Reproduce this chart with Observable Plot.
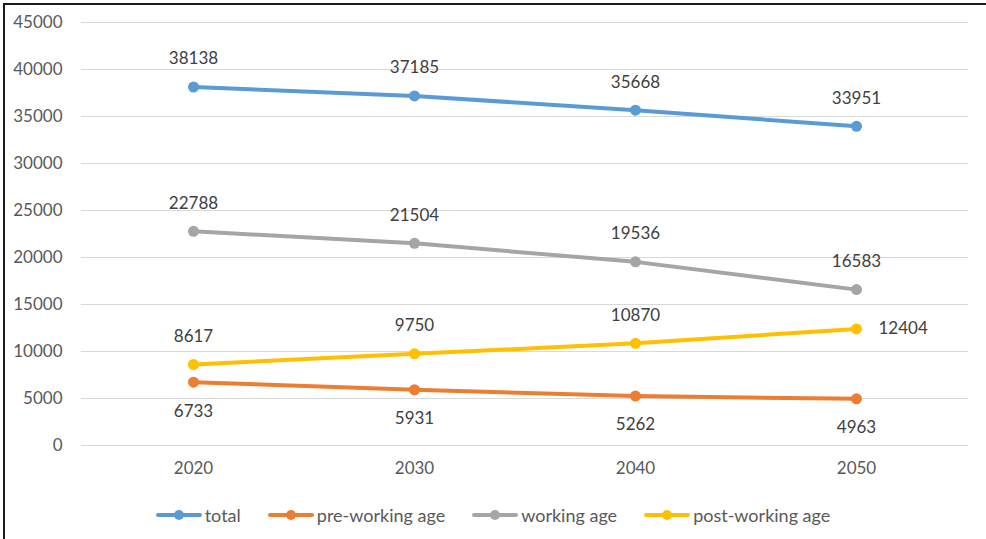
<!DOCTYPE html>
<html>
<head>
<meta charset="utf-8">
<script src="https://cdn.jsdelivr.net/npm/d3@7"></script>
<script src="https://cdn.jsdelivr.net/npm/@observablehq/plot@0.6"></script>
<style>
  html, body { margin: 0; padding: 0; background: #fff; }
  body { width: 986px; height: 539px; overflow: hidden; position: relative; font-family: Lato, "Open Sans", sans-serif; }
  #frame { position: absolute; left: 3px; top: 3px; width: 1200px; height: 800px; border-left: 2px solid #1a1a1a; border-top: 2px solid #1a1a1a; pointer-events: none; }
  #chart { position: absolute; left: 0; top: 0; }
  #legend { position: absolute; left: 0; top: 502px; width: 986px; height: 26px; display: flex; justify-content: center; align-items: center; gap: 27px; color: #595959; font-size: 18px; }
  .item { display: flex; align-items: center; }
  .item span { margin-left: 3px; }
</style>
</head>
<body>
<div id="chart"></div>
<div id="legend"></div>
<div id="frame"></div>
<script>
const years = ["2020", "2030", "2040", "2050"];
const total = [38138, 37185, 35668, 33951];
const preWorking = [6733, 5931, 5262, 4963];
const working = [22788, 21504, 19536, 16583];
const postWorking = [8617, 9750, 10870, 12404];
const seriesNames = ["total", "pre-working age", "working age", "post-working age"];
const seriesColors = ["#5B9BD5", "#ED7D31", "#A5A5A5", "#FFC000"];
const yTicks = [0, 5000, 10000, 15000, 20000, 25000, 30000, 35000, 40000, 45000];

const seriesValues = [total, preWorking, working, postWorking];
const data = [];
seriesNames.forEach((s, i) => {
  years.forEach((yr, j) => data.push({series: s, year: yr, value: seriesValues[i][j]}));
});

const above = d => d.series === "total" || d.series === "working age" || (d.series === "post-working age" && d.year !== "2050");
const below = d => d.series === "pre-working age";
const right = d => d.series === "post-working age" && d.year === "2050";

const chart = Plot.plot({
  width: 986,
  height: 490,
  marginLeft: 81,
  marginRight: 18,
  marginTop: 22,
  marginBottom: 45,
  style: {fontFamily: "Lato, 'Open Sans', sans-serif", fontSize: "17px", color: "#595959", background: "transparent"},
  x: {type: "point", domain: years, padding: 0.5, label: null},
  y: {domain: [0, 45000], ticks: yTicks, label: null, tickFormat: d => String(d)},
  color: {domain: seriesNames, range: seriesColors},
  marks: [
    Plot.gridY(yTicks, {stroke: "#D9D9D9", strokeOpacity: 1, strokeWidth: 1}),
    Plot.axisY({ticks: yTicks, tickSize: 0, tickPadding: 19, tickFormat: d => String(d), label: null}),
    Plot.axisX({tickSize: 0, tickPadding: 16, label: null}),
    Plot.line(data, {x: "year", y: "value", z: "series", stroke: "series", strokeWidth: 4, strokeLinecap: "round", strokeLinejoin: "round"}),
    Plot.dot(data, {x: "year", y: "value", fill: "series", r: 5.5}),
    Plot.text(data.filter(above), {x: "year", y: "value", text: d => String(d.value), dy: -28, fill: "#404040"}),
    Plot.text(data.filter(below), {x: "year", y: "value", text: d => String(d.value), dy: 29, fill: "#404040"}),
    Plot.text(data.filter(right), {x: "year", y: "value", text: d => String(d.value), dx: 22, textAnchor: "start", fill: "#404040"})
  ]
});
document.getElementById("chart").appendChild(chart);

const legend = document.getElementById("legend");
seriesNames.forEach((s, i) => {
  const item = document.createElement("div");
  item.className = "item";
  item.innerHTML = `<svg width="46" height="14"><line x1="2" y1="7" x2="44" y2="7" stroke="${seriesColors[i]}" stroke-width="4" stroke-linecap="round"/><circle cx="23" cy="7" r="5" fill="${seriesColors[i]}"/></svg><span>${s}</span>`;
  legend.appendChild(item);
});
</script>
</body>
</html>
